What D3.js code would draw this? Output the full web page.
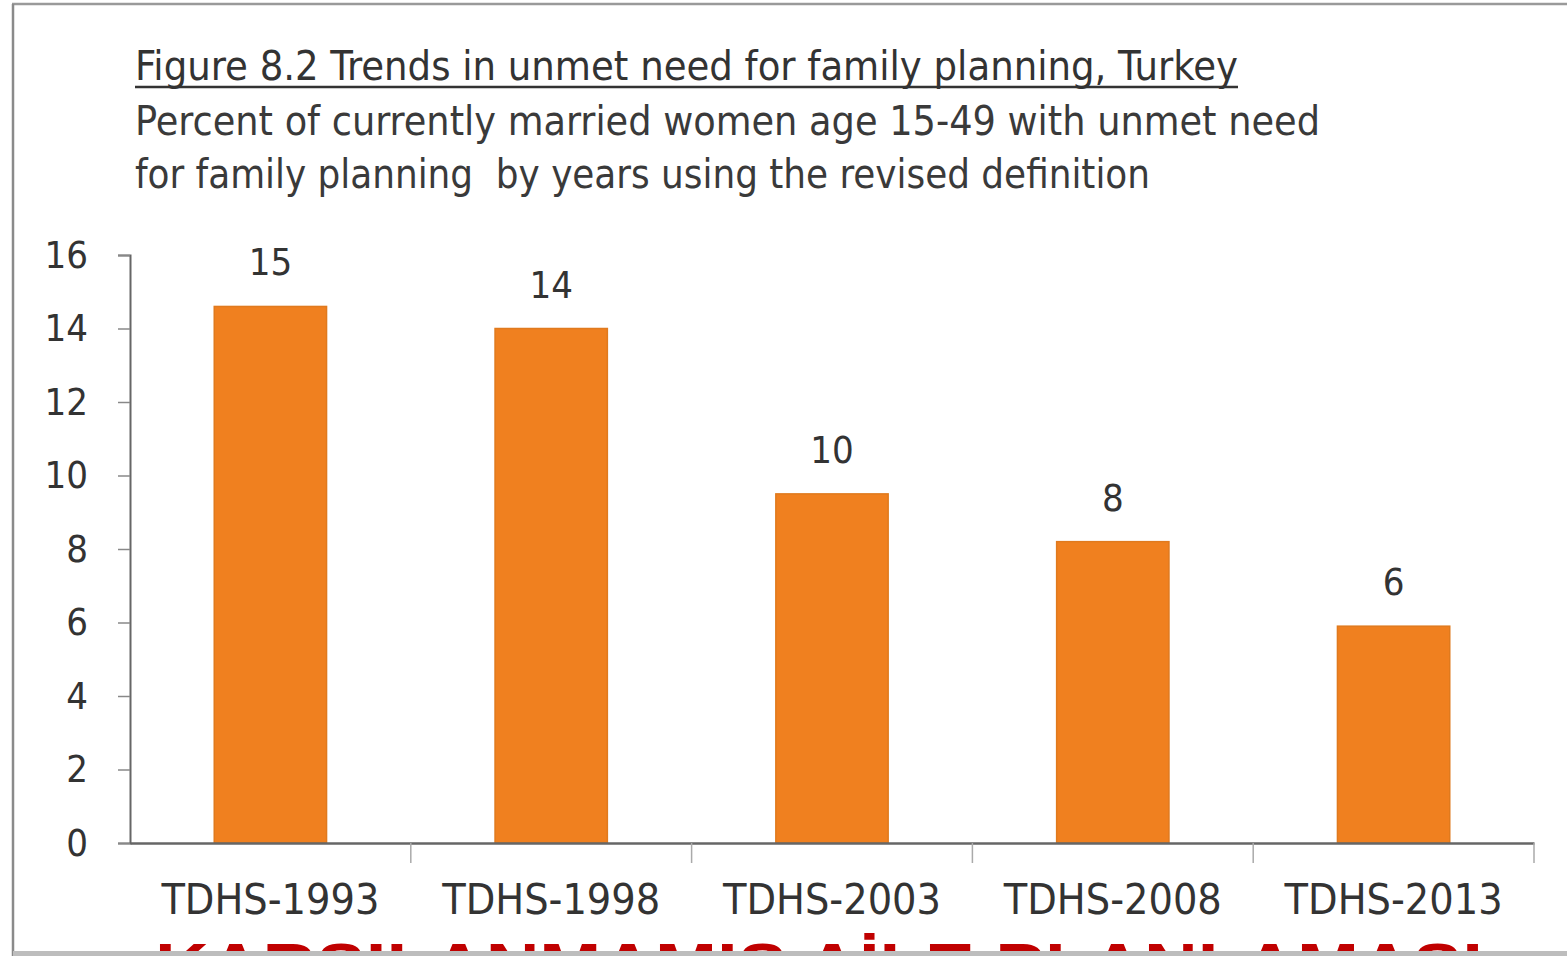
<!DOCTYPE html>
<html>
<head>
<meta charset="utf-8">
<script src="https://cdn.jsdelivr.net/npm/d3@7"></script>
<style>
  html, body { margin: 0; padding: 0; background: #ffffff; }
  svg { display: block; }
  text { white-space: pre; }
</style>
</head>
<body>
<svg id="chart" width="1567" height="956"></svg>
<script>
// Unmet need for family planning, Turkey (percent)
const surveys = ["TDHS-1993", "TDHS-1998", "TDHS-2003", "TDHS-2008", "TDHS-2013"];
const unmetNeed = [14.6, 14.0, 9.5, 8.2, 5.9];
const yTicks = [0, 2, 4, 6, 8, 10, 12, 14, 16];

const titleText = "Figure 8.2 Trends in unmet need for family planning, Turkey";
const subtitleLines = [
  "Percent of currently married women age 15-49 with unmet need",
  "for family planning  by years using the revised definition"
];
const bannerText = "KARŞILANMAMIŞ AİLE PLANLAMASI";

const W = 1567, H = 956;
const svg = d3.select("#chart");
const FONT = "'DejaVu Sans Condensed', 'DejaVu Sans', sans-serif";

// page frame
svg.append("rect").attr("x", 0).attr("y", 0).attr("width", W).attr("height", H).attr("fill", "#fff");
svg.append("line").attr("x1", 12).attr("x2", W).attr("y1", 4).attr("y2", 4)
  .attr("stroke", "#9a9a9a").attr("stroke-width", 2.5);
svg.append("line").attr("x1", 13).attr("x2", 13).attr("y1", 4).attr("y2", H)
  .attr("stroke", "#8a8a8a").attr("stroke-width", 2.5);

// heading
svg.append("text")
  .attr("x", 135).attr("y", 80)
  .attr("font-family", FONT).attr("font-size", 41).attr("fill", "#333")
  .attr("textLength", 1103).attr("lengthAdjust", "spacingAndGlyphs")
  .text(titleText);
svg.append("line").attr("x1", 135).attr("x2", 1238).attr("y1", 87).attr("y2", 87)
  .attr("stroke", "#333").attr("stroke-width", 2.5);

const subLengths = [1185, 1015];
subtitleLines.forEach((s, i) => {
  svg.append("text")
    .attr("x", 135).attr("y", 135 + i * 53)
    .attr("font-family", FONT).attr("font-size", 41).attr("fill", "#3a3a3a")
    .attr("textLength", subLengths[i]).attr("lengthAdjust", "spacingAndGlyphs")
    .text(s);
});

// scales
const plot = { left: 130, right: 1534, top: 255, bottom: 843 };
const x = d3.scaleBand().domain(surveys)
  .range([plot.left, plot.right]).paddingInner(0.6).paddingOuter(0.3);
const xEdges = d3.scaleBand().domain(surveys).range([plot.left, plot.right]).padding(0);
const y = d3.scaleLinear().domain([0, 16]).range([plot.bottom, plot.top]);

// bars
svg.append("g").selectAll("rect").data(unmetNeed).join("rect")
  .attr("x", (d, i) => x(surveys[i]))
  .attr("y", d => y(d))
  .attr("width", x.bandwidth())
  .attr("height", d => y(0) - y(d))
  .attr("fill", "#F0801F")
  .attr("stroke", "#E07A1E").attr("stroke-width", 1.5);

// value labels
const fmt = d3.format(".0f");
svg.append("g").selectAll("text").data(unmetNeed).join("text")
  .attr("x", (d, i) => x(surveys[i]) + x.bandwidth() / 2)
  .attr("y", d => y(d) - 31)
  .attr("text-anchor", "middle")
  .attr("font-family", FONT).attr("font-size", 38).attr("fill", "#333")
  .text(d => fmt(d));

// y axis
const yAxis = svg.append("g").attr("transform", `translate(${plot.left},0)`)
  .call(d3.axisLeft(y).tickValues(yTicks).tickSize(12).tickPadding(30));
yAxis.select(".domain").attr("stroke", "#666").attr("stroke-width", 2);
yAxis.selectAll(".tick line").attr("stroke", "#888").attr("stroke-width", 1.5);
yAxis.selectAll(".tick text")
  .attr("font-family", FONT).attr("font-size", 38).attr("fill", "#333");

// x axis: baseline with ticks at category boundaries
const xAxis = svg.append("g").attr("transform", `translate(0,${plot.bottom})`)
  .call(d3.axisBottom(xEdges).tickSize(0).tickPadding(40));
xAxis.select(".domain").attr("stroke", "#666").attr("stroke-width", 2.5);
xAxis.selectAll(".tick text")
  .attr("font-family", FONT).attr("font-size", 43).attr("fill", "#333")
  .attr("textLength", 218).attr("lengthAdjust", "spacingAndGlyphs");
const bounds = surveys.map(s => xEdges(s) + xEdges.bandwidth());
svg.append("g").selectAll("line").data(bounds).join("line")
  .attr("x1", d => d).attr("x2", d => d)
  .attr("y1", plot.bottom).attr("y2", plot.bottom + 20)
  .attr("stroke", "#aaa").attr("stroke-width", 1.5);

// banner
svg.append("text")
  .attr("x", 155).attr("y", 990)
  .attr("font-family", "'Liberation Sans', Arial, sans-serif")
  .attr("font-weight", "bold").attr("font-size", 67).attr("fill", "#C00000")
  .attr("textLength", 1328).attr("lengthAdjust", "spacingAndGlyphs")
  .text(bannerText);
svg.append("rect").attr("x", 13).attr("y", 951).attr("width", W).attr("height", 5)
  .attr("fill", "#bdbdbd");
</script>
</body>
</html>
